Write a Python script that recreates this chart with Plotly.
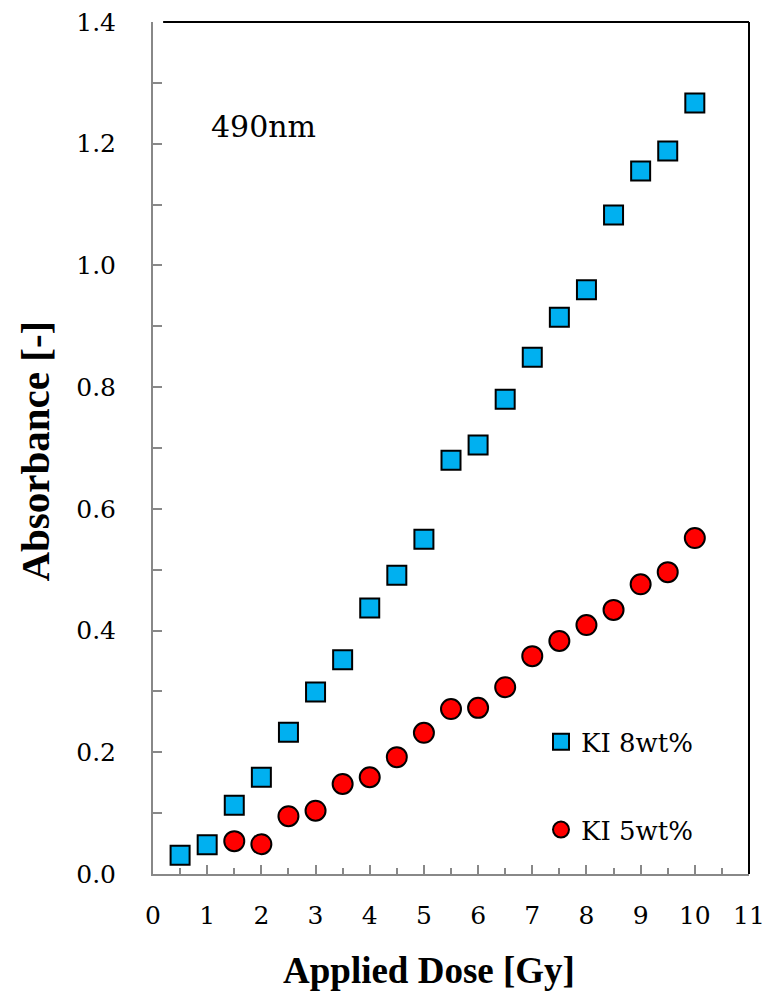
import plotly.graph_objects as go

dose_8 = [0.5, 1.0, 1.5, 2.0, 2.5, 3.0, 3.5, 4.0, 4.5, 5.0, 5.5, 6.0, 6.5, 7.0, 7.5, 8.0, 8.5, 9.0, 9.5, 10.0]
abs_8 = [0.031, 0.048, 0.113, 0.159, 0.233, 0.299, 0.352, 0.437, 0.491, 0.550, 0.680, 0.705, 0.780, 0.849, 0.915, 0.960, 1.083, 1.155, 1.188, 1.267]
dose_5 = [1.5, 2.0, 2.5, 3.0, 3.5, 4.0, 4.5, 5.0, 5.5, 6.0, 6.5, 7.0, 7.5, 8.0, 8.5, 9.0, 9.5, 10.0]
abs_5 = [0.054, 0.049, 0.095, 0.104, 0.148, 0.159, 0.192, 0.232, 0.271, 0.273, 0.307, 0.358, 0.383, 0.409, 0.434, 0.476, 0.496, 0.552]

SERIF = "DejaVu Serif"
TIMES = "Liberation Serif"

fig = go.Figure()
fig.add_trace(go.Scatter(
    x=dose_5, y=abs_5, mode="markers", name="KI 5wt%", legend="legend2",
    marker=dict(symbol="circle", size=20, color="#FF0000", line=dict(color="black", width=2)),
))
fig.add_trace(go.Scatter(
    x=dose_8, y=abs_8, mode="markers", name="KI 8wt%", legend="legend",
    marker=dict(symbol="square", size=19, color="#00B0F0", line=dict(color="black", width=2)),
))

fig.update_layout(
    width=771, height=999,
    margin=dict(l=153, r=22, t=22, b=125, autoexpand=False),
    paper_bgcolor="white", plot_bgcolor="white",
    font=dict(family=SERIF, size=25, color="black"),
    showlegend=True,
    legend=dict(x=0.651, y=0.155, xanchor="left", yanchor="middle", bgcolor="rgba(0,0,0,0)",
                font=dict(family=SERIF, size=26), itemwidth=30),
    legend2=dict(x=0.651, y=0.052, xanchor="left", yanchor="middle", bgcolor="rgba(0,0,0,0)",
                 font=dict(family=SERIF, size=26), itemwidth=30),
    xaxis=dict(
        range=[0, 11], tickmode="linear", tick0=0, dtick=1, automargin=False,
        ticks="inside", ticklen=9, tickwidth=2, tickcolor="#888888",
        minor=dict(ticks="inside", dtick=0.5, ticklen=6, tickwidth=2, tickcolor="#888888"),
        showline=True, linecolor="#888888", linewidth=2,
        showgrid=False, zeroline=False,
        ticklabelstandoff=18, ticklabeloverflow="allow",
        tickfont=dict(family=SERIF, size=25),
    ),
    yaxis=dict(
        range=[0, 1.4], tickmode="linear", tick0=0, dtick=0.2, tickformat=".1f", automargin=False,
        ticks="inside", ticklen=9, tickwidth=2, tickcolor="#888888",
        minor=dict(ticks="inside", dtick=0.1, ticklen=9, tickwidth=2, tickcolor="#888888"),
        showline=True, linecolor="#888888", linewidth=2,
        showgrid=False, zeroline=False,
        ticklabelstandoff=30, ticklabeloverflow="allow",
        tickfont=dict(family=SERIF, size=25),
    ),
    annotations=[
        dict(text="490nm", x=0.186, y=0.877, xref="paper", yref="paper",
             xanchor="center", yanchor="middle", showarrow=False,
             font=dict(family=SERIF, size=30)),
        dict(text="<b>Applied Dose [Gy]</b>", x=0.463, y=-0.1127, xref="paper", yref="paper",
             xanchor="center", yanchor="middle", showarrow=False,
             font=dict(family=TIMES, size=37)),
        dict(text="<b>Absorbance [-]</b>", x=-0.198, y=0.497, xref="paper", yref="paper",
             xanchor="center", yanchor="middle", showarrow=False, textangle=-90,
             font=dict(family=TIMES, size=41)),
    ],
    shapes=[
        dict(type="line", xref="paper", yref="paper", x0=0.017, x1=1, y0=1, y1=1,
             line=dict(color="black", width=2)),
        dict(type="line", xref="paper", yref="paper", x0=1, x1=1, y0=0, y1=1,
             line=dict(color="black", width=2)),
    ],
)

fig.write_html(
    "out.html",
    config={"displayModeBar": False},
    post_script="document.documentElement.style.margin='0';document.documentElement.style.overflow='hidden';"
                "document.body.style.margin='0';document.body.style.padding='0';document.body.style.overflow='hidden';",
)
